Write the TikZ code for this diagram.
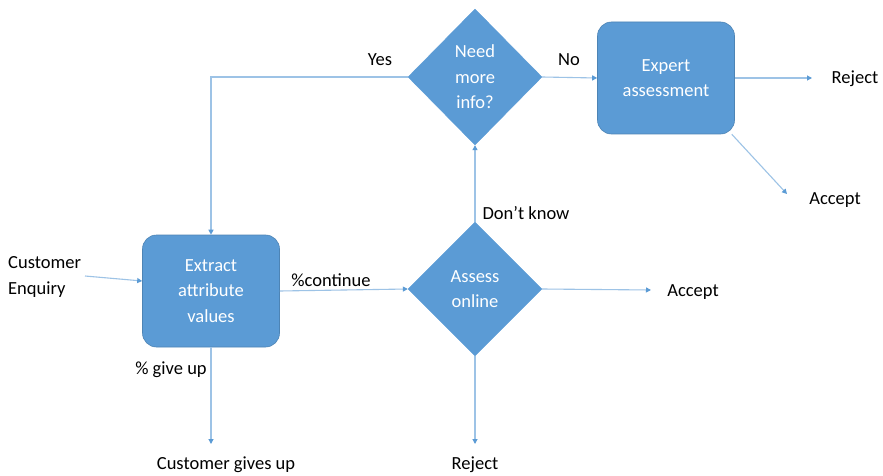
\documentclass[tikz,border=0pt]{standalone}
\usepackage{fontspec}
\setmainfont{Carlito}
\usetikzlibrary{shapes.geometric,arrows.meta,calc}
\definecolor{boxblue}{RGB}{91,155,213}
\definecolor{lineblue}{RGB}{157,195,230}
\definecolor{tipblue}{RGB}{91,155,213}
\tikzset{
  every node/.style={font=\fontsize{18.5}{25.5}\selectfont},
  procbox/.style={draw=boxblue!85!black,line width=0.6pt,fill=boxblue,rounded corners=14pt,text=white,align=center,minimum width=137pt,minimum height=112pt,inner sep=0pt},
  decbox/.style={shape=diamond,draw=boxblue,fill=boxblue,text=white,align=center,minimum width=134pt,minimum height=136pt,inner sep=0pt},
  lbl/.style={text=black,inner sep=0pt},
  flow/.style={draw=lineblue,line width=1.1pt,-{Triangle[length=5pt,width=5pt,color=tipblue]}},
  plain/.style={draw=lineblue,line width=1.1pt}
}
\begin{document}
\begin{tikzpicture}[x=1pt,y=-1pt]
\useasboundingbox[fill=white] (0,0) rectangle (883,476);
% shapes
\node[decbox] (need) at (475,77) {Need\\more\\info?};
\node[procbox] (exp) at (666,78) {Expert\\assessment};
\node[procbox] (ext) at (211,291) {Extract\\attribute\\values};
\node[decbox,minimum height=134pt] (assess) at (475,289) {Assess\\online};
% end labels
\node[lbl,align=left,anchor=west] (cust) at (8,277) {Customer\\Enquiry};
\node[lbl] (rej1) at (855,79) {Reject};
\node[lbl] (acc1) at (835,200) {Accept};
\node[lbl] (acc2) at (693,292) {Accept};
\node[lbl] (rej2) at (475,465) {Reject};
\node[lbl] (gaveup) at (226,465) {Customer gives up};
% connector coordinates
\coordinate (ceStart) at (85,276);
\coordinate (yesCorner) at (211,77);
\coordinate (rejEnd) at (812,78);
\coordinate (accEnd) at (787,194);
\coordinate (acc2End) at (651,290);
\coordinate (rej2End) at (475,444);
\coordinate (giveEnd) at (211,444);
% connectors
\draw[flow] (ceStart) -- ($(ext.west)+(0,-10)$);
\draw[flow] (need.west) -- (yesCorner) -- (ext.north);
\draw[flow] (need.east) -- (exp.west);
\draw[flow] (exp.east) -- (rejEnd);
\draw[flow] (exp.south east) ++(-3,0) -- (accEnd);
\draw[flow] (ext.east) -- (assess.west);
\draw[flow] (assess.north) -- (need.south);
\draw[flow] (assess.east) -- (acc2End);
\draw[flow] (assess.south) -- (rej2End);
\draw[flow] (ext.south) -- (giveEnd);
% connector labels
\node[lbl] (yesL) at (380,60) {Yes};
\node[lbl] (noL) at (569,60) {No};
\node[lbl] (contL) at (331,280) {\%continue};
\node[lbl] (dkL) at (526,213) {Don’t know};
\node[lbl] (guL) at (171,370) {\% give up};
\end{tikzpicture}
\end{document}
